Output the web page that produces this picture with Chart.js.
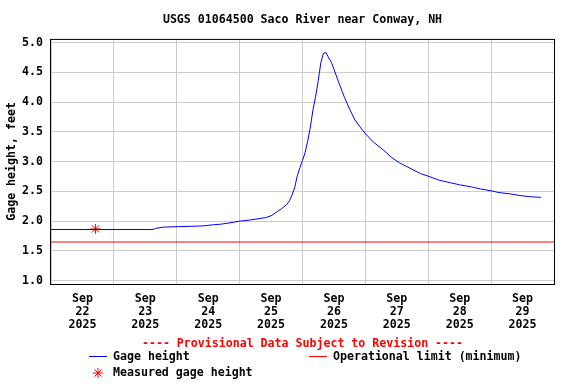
<!DOCTYPE html>
<html>
<head>
<meta charset="utf-8">
<script src="https://cdn.jsdelivr.net/npm/chart.js@4.4.0/dist/chart.umd.min.js"></script>
<style>
  html, body { margin: 0; padding: 0; background: #fff; }
</style>
</head>
<body>
<canvas id="chart" width="576" height="384"></canvas>
<script>
// hours after Sep 22 2025 00:00
const hours = [0, 39, 40, 43, 50, 58, 62, 65, 68, 72, 76, 79, 82, 84, 86, 88, 90, 91, 92, 93, 94, 95, 96, 97, 98, 99, 100,
  101, 102, 103, 104, 105, 106, 107, 108, 110, 112, 114, 116, 118, 120, 123, 127, 130, 133, 137, 141, 145, 148,
  152, 156, 160, 164, 168, 171, 175, 179, 183, 187];
const gageHeight = [1.86, 1.86, 1.88, 1.90, 1.91, 1.92, 1.94, 1.95, 1.97, 2.00, 2.02, 2.04, 2.06, 2.09, 2.15, 2.21, 2.28, 2.34, 2.44, 2.56, 2.76, 2.90, 3.02,
  3.15, 3.35, 3.58, 3.87, 4.09, 4.36, 4.66, 4.82, 4.83, 4.74, 4.67, 4.55, 4.31, 4.08, 3.88, 3.70, 3.58, 3.47, 3.33, 3.19,
  3.07, 2.98, 2.89, 2.80, 2.74, 2.69, 2.65, 2.61, 2.58, 2.54, 2.51, 2.48, 2.46, 2.43, 2.41, 2.40];

const measuredHours = [17];
const measuredHeight = [1.87];

const limitHours = [0, 192];
const limitHeight = [1.65, 1.65];

const xTickHours = [0, 12, 24, 36, 48, 60, 72, 84, 96, 108, 120, 132, 144, 156, 168, 180, 192];
const dayLabels = ['22', '23', '24', '25', '26', '27', '28', '29'];
const yTicks = [1.0, 1.5, 2.0, 2.5, 3.0, 3.5, 4.0, 4.5, 5.0];

const FONT = '"DejaVu Sans Mono", "Liberation Mono", monospace';
const toPts = (xs, ys) => xs.map((x, i) => ({ x: x, y: ys[i] }));

// frame round the plot plus the legend block under the axis
const usgsExtras = {
  id: 'usgsExtras',
  afterDatasetsDraw(chart) {
    const { ctx, chartArea: a } = chart;
    ctx.save();
    ctx.strokeStyle = '#000';
    ctx.lineWidth = 1;
    ctx.strokeRect(a.left - 0.5, a.top + 0.5, a.right - a.left + 1, a.bottom - a.top);
    ctx.restore();
  },
  afterDraw(chart) {
    const { ctx, chartArea: a } = chart;
    const mid = (a.left + a.right) / 2;
    ctx.save();
    ctx.font = 'bold 11.6px ' + FONT;
    ctx.textBaseline = 'middle';
    ctx.textAlign = 'center';
    ctx.fillStyle = '#ff0000';
    ctx.fillText('---- Provisional Data Subject to Revision ----', mid, 344);

    ctx.textAlign = 'left';
    ctx.lineWidth = 1;
    // Gage height
    ctx.strokeStyle = '#0000ff';
    ctx.beginPath(); ctx.moveTo(89, 356.5); ctx.lineTo(107, 356.5); ctx.stroke();
    ctx.fillStyle = '#000';
    ctx.fillText('Gage height', 113, 357);
    // Operational limit
    ctx.strokeStyle = '#ff0000';
    ctx.beginPath(); ctx.moveTo(309, 356.5); ctx.lineTo(327, 356.5); ctx.stroke();
    ctx.fillText('Operational limit (minimum)', 333, 357);
    // Measured
    Chart.helpers.drawPoint(ctx, { pointStyle: 'star', radius: 5, rotation: 0, borderWidth: 1 }, 98, 373);
    ctx.fillStyle = '#000';
    ctx.fillText('Measured gage height', 113, 373);
    ctx.restore();
  }
};

new Chart(document.getElementById('chart'), {
  type: 'line',
  data: {
    datasets: [
      {
        label: 'Operational limit (minimum)',
        data: toPts(limitHours, limitHeight),
        borderColor: '#ff0000',
        borderWidth: 1,
        pointRadius: 0,
        fill: false
      },
      {
        label: 'Gage height',
        data: toPts(hours, gageHeight),
        borderColor: '#0000ff',
        borderWidth: 1,
        pointRadius: 0,
        tension: 0,
        fill: false
      },
      {
        label: 'Measured gage height',
        data: toPts(measuredHours, measuredHeight),
        showLine: false,
        pointStyle: 'star',
        pointRadius: 5,
        pointBorderColor: '#ff0000',
        pointBorderWidth: 1
      }
    ]
  },
  options: {
    responsive: false,
    animation: false,
    devicePixelRatio: 1,
    layout: { padding: { left: 0, right: 22, top: 0, bottom: 0 } },
    plugins: {
      legend: { display: false },
      tooltip: { enabled: false },
      title: {
        display: true,
        fullSize: false,
        text: 'USGS 01064500 Saco River near Conway, NH',
        color: '#000',
        font: { family: FONT, size: 11.6, weight: 'bold' },
        padding: { top: 13.5, bottom: 11.5 }
      }
    },
    scales: {
      x: {
        type: 'linear',
        min: 0,
        max: 192,
        afterFit: s => { s.height = 100; },
        afterBuildTicks: s => { s.ticks = xTickHours.map(v => ({ value: v })); },
        grid: {
          drawTicks: false,
          color: c => (c.tick && c.tick.value % 24 === 0) ? '#cccccc' : 'rgba(0,0,0,0)'
        },
        border: { display: false },
        ticks: {
          autoSkip: false,
          maxRotation: 0,
          padding: 8,
          color: '#000',
          font: { family: FONT, size: 11.6, weight: 'bold', lineHeight: 1.13 },
          callback: v => (v % 24 === 12) ? ['Sep', dayLabels[(v - 12) / 24], '2025'] : ''
        }
      },
      y: {
        min: 0.945,
        max: 5.06,
        afterFit: s => { s.width = 51; },
        afterBuildTicks: s => { s.ticks = yTicks.map(v => ({ value: v })); },
        grid: { drawTicks: false, color: '#cccccc' },
        border: { display: false },
        ticks: {
          padding: 8,
          color: '#000',
          font: { family: FONT, size: 11.6, weight: 'bold' },
          callback: v => v.toFixed(1)
        },
        title: {
          display: true,
          text: 'Gage height, feet',
          color: '#000',
          font: { family: FONT, size: 11.6, weight: 'bold' },
          padding: { top: 5, bottom: 0 }
        }
      }
    }
  },
  plugins: [usgsExtras]
});
</script>
</body>
</html>
